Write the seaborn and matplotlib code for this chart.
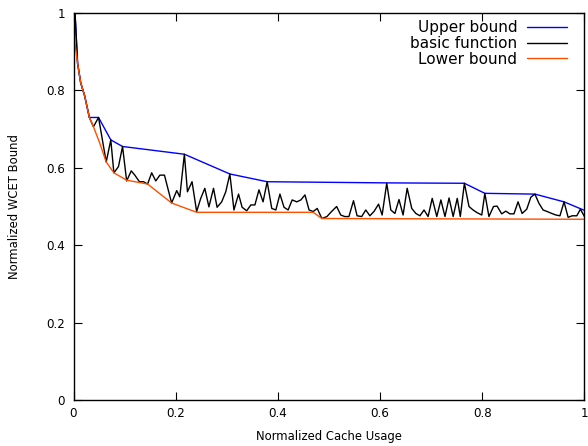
import matplotlib
matplotlib.use("Agg")
import matplotlib.pyplot as plt
import seaborn as sns

upper_x = [0.0, 0.003, 0.008, 0.014, 0.022, 0.031, 0.049, 0.073, 0.096, 0.217, 0.306,
           0.379, 0.613, 0.765, 0.805, 0.903, 0.960, 1.0]
upper_y = [1.0, 1.0, 0.87, 0.82, 0.785, 0.73, 0.73, 0.672, 0.655, 0.635, 0.584,
           0.564, 0.561, 0.560, 0.534, 0.532, 0.512, 0.490]

basic_x = [0.0, 0.003, 0.008, 0.014, 0.022, 0.031, 0.039, 0.049, 0.064, 0.073, 0.079,
           0.088, 0.096, 0.104, 0.113, 0.120, 0.129, 0.137, 0.145, 0.153, 0.161, 0.169,
           0.178, 0.192, 0.202, 0.208, 0.217, 0.223, 0.232, 0.241, 0.249, 0.257, 0.265,
           0.274, 0.281, 0.290, 0.298, 0.306, 0.314, 0.323, 0.330, 0.339, 0.347, 0.355,
           0.363, 0.371, 0.379, 0.388, 0.396, 0.404, 0.412, 0.420, 0.428, 0.437, 0.445,
           0.453, 0.461, 0.469, 0.477, 0.486, 0.496, 0.505, 0.515, 0.523, 0.531, 0.539,
           0.548, 0.555, 0.564, 0.572, 0.580, 0.588, 0.597, 0.604, 0.613, 0.621, 0.629,
           0.637, 0.645, 0.653, 0.662, 0.670, 0.678, 0.686, 0.694, 0.702, 0.711, 0.719,
           0.727, 0.735, 0.743, 0.751, 0.757, 0.765, 0.774, 0.782, 0.790, 0.799, 0.805,
           0.813, 0.822, 0.829, 0.838, 0.846, 0.854, 0.862, 0.870, 0.878, 0.887, 0.895,
           0.903, 0.911, 0.919, 0.927, 0.936, 0.944, 0.952, 0.960, 0.968, 0.976, 0.985,
           0.992, 1.0]
basic_y = [0.95, 1.0, 0.87, 0.82, 0.785, 0.73, 0.706, 0.73, 0.615, 0.672, 0.587,
           0.603, 0.655, 0.566, 0.592, 0.581, 0.564, 0.564, 0.558, 0.587, 0.566, 0.581,
           0.581, 0.509, 0.541, 0.525, 0.635, 0.538, 0.564, 0.487, 0.521, 0.547, 0.499,
           0.547, 0.498, 0.512, 0.538, 0.584, 0.491, 0.532, 0.498, 0.489, 0.504, 0.504,
           0.543, 0.512, 0.564, 0.495, 0.491, 0.532, 0.498, 0.491, 0.517, 0.512, 0.517,
           0.530, 0.491, 0.487, 0.495, 0.469, 0.474, 0.487, 0.500, 0.478, 0.474, 0.474,
           0.515, 0.476, 0.474, 0.491, 0.476, 0.487, 0.506, 0.478, 0.560, 0.491, 0.482,
           0.518, 0.478, 0.547, 0.495, 0.482, 0.476, 0.491, 0.474, 0.521, 0.474, 0.517,
           0.474, 0.522, 0.474, 0.521, 0.474, 0.560, 0.500, 0.491, 0.484, 0.478, 0.534,
           0.474, 0.500, 0.501, 0.481, 0.488, 0.481, 0.481, 0.512, 0.482, 0.493, 0.524,
           0.532, 0.508, 0.491, 0.487, 0.482, 0.478, 0.476, 0.512, 0.472, 0.476, 0.476,
           0.493, 0.474]

lower_x = [0.0, 0.008, 0.014, 0.022, 0.031, 0.039, 0.051, 0.064, 0.079, 0.104, 0.145,
           0.192, 0.241, 0.469, 0.486, 1.0]
lower_y = [0.95, 0.87, 0.82, 0.785, 0.73, 0.706, 0.665, 0.615, 0.587, 0.568, 0.558,
           0.509, 0.485, 0.485, 0.469, 0.467]

x_ticks = [0, 0.2, 0.4, 0.6, 0.8, 1]
x_tick_labels = ["0", "0.2", "0.4", "0.6", "0.8", "1"]
y_ticks = [0, 0.2, 0.4, 0.6, 0.8, 1]
y_tick_labels = ["0", "0.2", "0.4", "0.6", "0.8", "1"]

sns.set_style("ticks")
plt.rcParams["font.family"] = ["DejaVu Sans"]
plt.rcParams["text.color"] = "black"
plt.rcParams["axes.labelcolor"] = "black"
plt.rcParams["xtick.color"] = "black"
plt.rcParams["ytick.color"] = "black"

fig = plt.figure(figsize=(5.88, 4.46), dpi=100)
ax = fig.add_axes([0.125, 0.103, 0.869, 0.868])

sns.lineplot(x=upper_x, y=upper_y, ax=ax, color="#0000ff", lw=1.0,
             estimator=None, sort=False, label="Upper bound")
sns.lineplot(x=basic_x, y=basic_y, ax=ax, color="black", lw=1.0,
             estimator=None, sort=False, label="basic function")
sns.lineplot(x=lower_x, y=lower_y, ax=ax, color="#ff5000", lw=1.0,
             estimator=None, sort=False, label="Lower bound")

ax.set_xlim(0, 1)
ax.set_ylim(0, 1)
ax.set_xticks(x_ticks)
ax.set_xticklabels(x_tick_labels)
ax.set_yticks(y_ticks)
ax.set_yticklabels(y_tick_labels)
ax.tick_params(direction="in", length=6, width=0.8, top=True, right=True,
               labelsize=8.6, colors="black")
ax.tick_params(axis="x", pad=5)
ax.tick_params(axis="y", pad=6)
for s in ax.spines.values():
    s.set_visible(True)
    s.set_linewidth(1.0)
    s.set_color("black")

ax.set_xlabel("Normalized Cache Usage", fontsize=8.4, labelpad=7, color="black")
ax.set_ylabel("Normalized WCET Bound", fontsize=8.4, labelpad=18, color="black")

leg = ax.legend(loc="upper right", bbox_to_anchor=(0.975, 0.993), frameon=False,
                markerfirst=False, fontsize=11, handlelength=2.6, handletextpad=0.65,
                labelspacing=0.05, borderaxespad=0.0, borderpad=0.3)
for t in leg.get_texts():
    t.set_color("black")

fig.savefig("out.png", dpi=100)
